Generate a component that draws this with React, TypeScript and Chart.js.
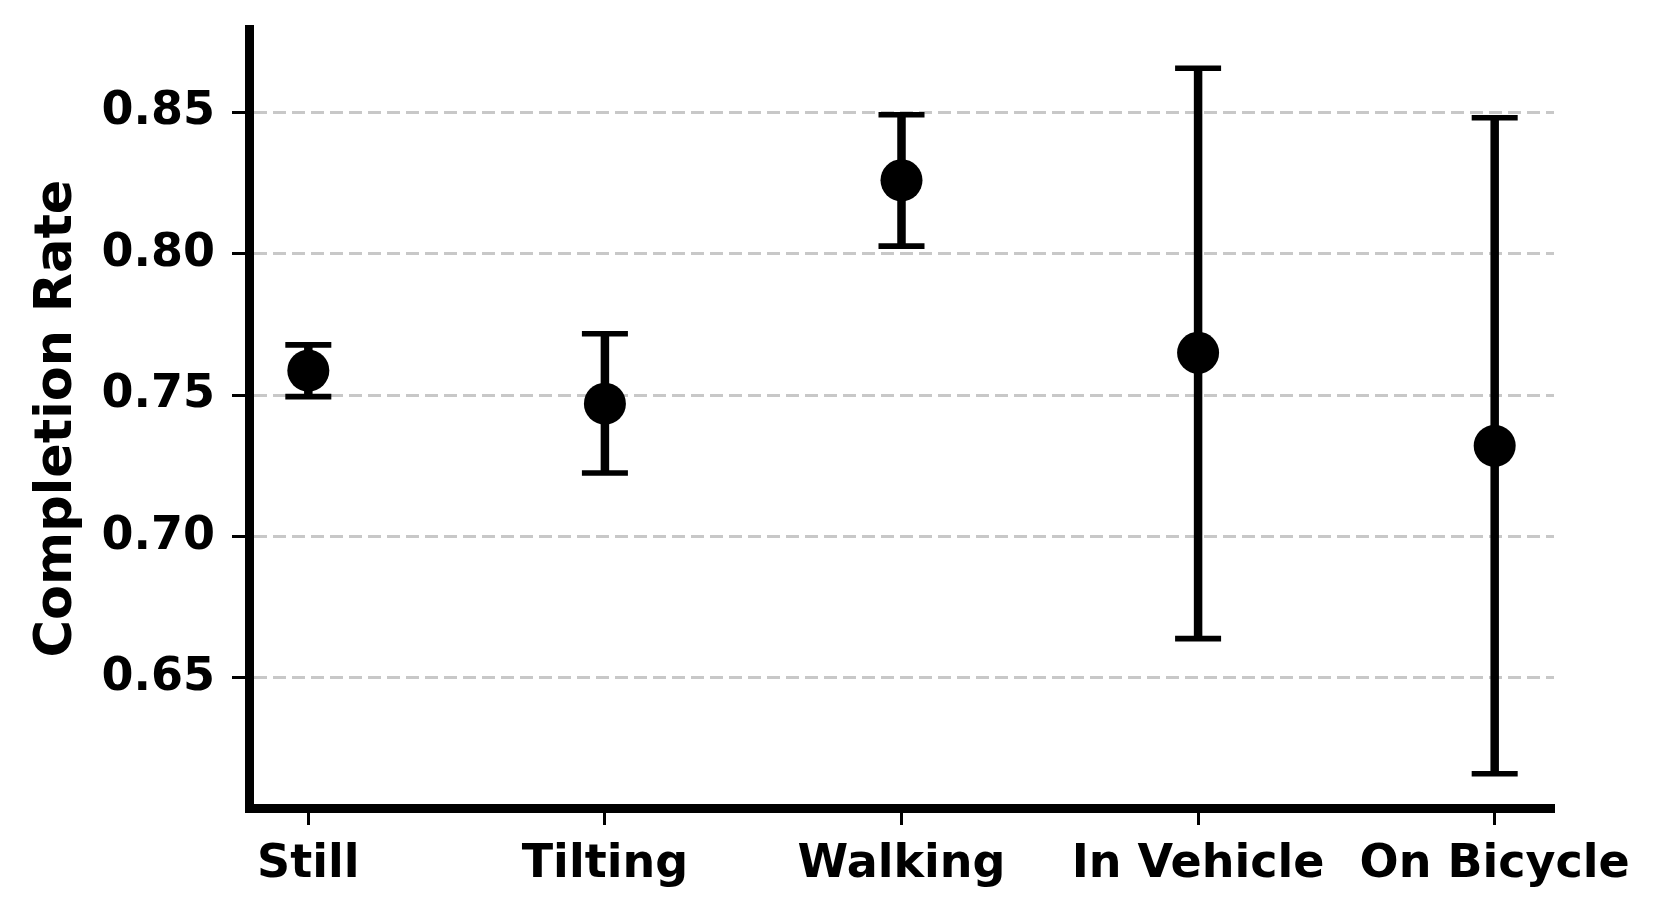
import React, { useEffect, useRef } from "react";
import { Chart, registerables } from "chart.js";

Chart.register(...registerables);

const categories = ["Still", "Tilting", "Walking", "In Vehicle", "On Bicycle"];
const means = [0.7587, 0.747, 0.826, 0.765, 0.7321];
const lowerBounds = [0.7495, 0.7225, 0.8027, 0.6639, 0.6161];
const upperBounds = [0.7678, 0.7717, 0.8492, 0.8656, 0.8481];
const yTickValues = [0.65, 0.7, 0.75, 0.8, 0.85];
const yMin = 0.604;
const yMax = 0.8795;
const yTitle = "Completion Rate";

const FONT = "'DejaVu Sans', sans-serif";

const errorBarPlugin = {
  id: "errorBars",
  beforeDatasetsDraw(chart: any) {
    const { ctx, scales } = chart;
    const xs = scales.x;
    const ys = scales.y;
    ctx.save();
    ctx.strokeStyle = "#000";
    for (let i = 0; i < categories.length; i++) {
      const x = xs.getPixelForValue(i);
      const yl = ys.getPixelForValue(lowerBounds[i]);
      const yu = ys.getPixelForValue(upperBounds[i]);
      ctx.lineWidth = 8.5;
      ctx.lineCap = "butt";
      ctx.beginPath();
      ctx.moveTo(x, yl);
      ctx.lineTo(x, yu);
      ctx.stroke();
      ctx.lineWidth = 5.6;
      const half = 23;
      ctx.beginPath();
      ctx.moveTo(x - half, yl);
      ctx.lineTo(x + half, yl);
      ctx.moveTo(x - half, yu);
      ctx.lineTo(x + half, yu);
      ctx.stroke();
    }
    ctx.restore();
  },
};

export default function App() {
  const canvasRef = useRef<HTMLCanvasElement>(null);

  useEffect(() => {
    const canvas = canvasRef.current;
    if (!canvas) return;
    const chart = new Chart(canvas, {
      type: "scatter",
      data: {
        datasets: [
          {
            data: means.map((m, i) => ({ x: i, y: m })),
            backgroundColor: "#000",
            borderColor: "#000",
            pointRadius: 21,
            pointHoverRadius: 21,
            borderWidth: 0,
          },
        ],
      },
      options: {
        responsive: false,
        animation: false,
        events: [],
        layout: { padding: { top: 29, right: 108, left: 0, bottom: 0 } },
        plugins: {
          legend: { display: false },
          tooltip: { enabled: false },
        },
        scales: {
          x: {
            type: "linear",
            min: -0.2,
            max: 4.2,
            afterFit: (s: any) => {
              s.height = 113;
              s.paddingLeft = 0;
              s.paddingRight = 0;
            },
            afterBuildTicks: (s: any) => {
              s.ticks = categories.map((_, i) => ({ value: i }));
            },
            ticks: {
              autoSkip: false,
              maxRotation: 0,
              padding: 12,
              color: "#000",
              font: { family: FONT, size: 46, weight: "bold" },
              callback: (v: any) => categories[Math.round(Number(v))] ?? "",
            },
            grid: {
              display: true,
              drawOnChartArea: false,
              drawTicks: true,
              tickLength: 17,
              tickColor: "#000",
              tickWidth: 3,
            },
            border: { display: true, color: "#000", width: 9 },
          },
          y: {
            type: "linear",
            min: yMin,
            max: yMax,
            afterFit: (s: any) => {
              s.width = 249;
              s.paddingTop = 0;
              s.paddingBottom = 0;
            },
            afterBuildTicks: (s: any) => {
              s.ticks = yTickValues.map((v) => ({ value: v }));
            },
            ticks: {
              padding: 17,
              color: "#000",
              font: { family: FONT, size: 46, weight: "bold" },
              callback: (v: any) => Number(v).toFixed(2),
            },
            grid: {
              display: true,
              drawOnChartArea: true,
              color: "#c8c8c8",
              lineWidth: 3,
              drawTicks: true,
              tickLength: 17,
              tickColor: "#000",
              tickWidth: 3,
              tickBorderDash: [],
            },
            border: { display: true, color: "#000", width: 9, dash: [13, 6] },
            title: {
              display: true,
              text: yTitle,
              color: "#000",
              font: { family: FONT, size: 51, weight: "bold" },
              padding: { top: 27, bottom: 0 },
            },
          },
        },
      },
      plugins: [errorBarPlugin],
    });
    return () => chart.destroy();
  }, []);

  return (
    <div
      style={{
        position: "fixed",
        left: 0,
        top: 0,
        width: 1662,
        height: 921,
        background: "#fff",
      }}
    >
      <canvas
        ref={canvasRef}
        width={1662}
        height={921}
        style={{ width: 1662, height: 921, display: "block" }}
      />
    </div>
  );
}
